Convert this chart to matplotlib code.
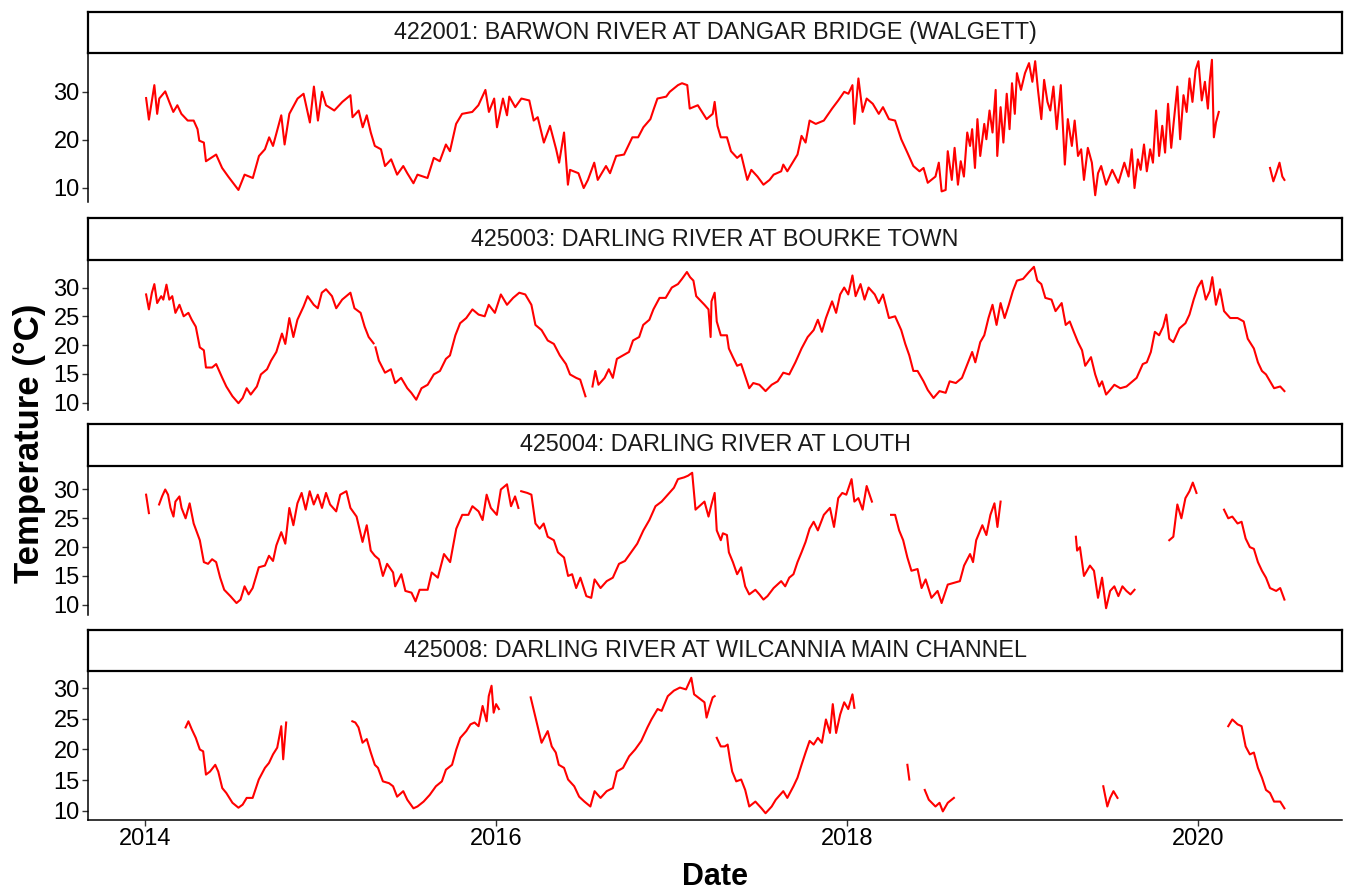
import numpy as np
import matplotlib
matplotlib.use("Agg")
import matplotlib.pyplot as plt

plt.rcParams["font.family"] = ["Liberation Sans", "DejaVu Sans"]

nan = np.nan

# Station titles
stations = [
    "422001: BARWON RIVER AT DANGAR BRIDGE (WALGETT)",
    "425003: DARLING RIVER AT BOURKE TOWN",
    "425004: DARLING RIVER AT LOUTH",
    "425008: DARLING RIVER AT WILCANNIA MAIN CHANNEL",
]

# 422001 - dates as decimal years, water temperature in degC (nan = no record)
p1_year = [
    2014.007, 2014.023, 2014.054, 2014.07, 2014.082, 2014.116, 2014.139, 2014.162, 2014.185, 2014.208,
    2014.244, 2014.278, 2014.30, 2014.31, 2014.336, 2014.348, 2014.406, 2014.44, 2014.475, 2014.51,
    2014.533, 2014.568, 2014.615, 2014.65, 2014.684, 2014.708, 2014.73, 2014.777, 2014.796, 2014.823,
    2014.87, 2014.904, 2014.94, 2014.963, 2014.986, 2015.009, 2015.032, 2015.079, 2015.125, 2015.171,
    2015.183, 2015.218, 2015.241, 2015.264, 2015.287, 2015.31, 2015.345, 2015.368, 2015.403, 2015.437,
    2015.472, 2015.495, 2015.53, 2015.553, 2015.61, 2015.646, 2015.68, 2015.715, 2015.738, 2015.773,
    2015.807, 2015.865, 2015.90, 2015.94, 2015.96, 2015.99, 2016.006, 2016.04, 2016.063, 2016.076,
    2016.11, 2016.145, 2016.19, 2016.215, 2016.238, 2016.273, 2016.308, 2016.343, 2016.36, 2016.388,
    2016.41, 2016.422, 2016.47, 2016.50, 2016.524, 2016.56, 2016.58, 2016.627, 2016.65, 2016.685,
    2016.73, 2016.777, 2016.81, 2016.84, 2016.88, 2016.90, 2016.92, 2016.97, 2016.99, 2017.037,
    2017.06, 2017.09, 2017.104, 2017.15, 2017.20, 2017.235, 2017.246, 2017.262, 2017.281, 2017.316,
    2017.339, 2017.374, 2017.397, 2017.432, 2017.455, 2017.49, 2017.524, 2017.559, 2017.582, 2017.625,
    2017.637, 2017.66, 2017.683, 2017.718, 2017.741, 2017.764, 2017.787, 2017.822, 2017.868, 2017.915,
    2017.95, 2017.984, 2018.008, 2018.031, 2018.042, 2018.065, 2018.089, 2018.112, 2018.147, 2018.181,
    2018.205, 2018.239, 2018.274, 2018.309, 2018.344, 2018.378, 2018.413, 2018.436, 2018.46, 2018.504,
    2018.523, 2018.539, 2018.562, 2018.574, 2018.597, 2018.613, 2018.632, 2018.648, 2018.666, 2018.685,
    2018.701, 2018.713, 2018.729, 2018.743, 2018.759, 2018.782, 2018.794, 2018.812, 2018.829, 2018.847,
    2018.856, 2018.875, 2018.891, 2018.91, 2018.926, 2018.94, 2018.956, 2018.968, 2018.991, 2019.014,
    2019.037, 2019.056, 2019.072, 2019.088, 2019.107, 2019.123, 2019.142, 2019.158, 2019.176, 2019.195,
    2019.218, 2019.241, 2019.258, 2019.281, 2019.297, 2019.316, 2019.334, 2019.35, 2019.372, 2019.395,
    2019.414, 2019.43, 2019.448, 2019.476, 2019.511, 2019.546, 2019.58, 2019.604, 2019.622, 2019.638,
    2019.657, 2019.673, 2019.692, 2019.708, 2019.727, 2019.743, 2019.761, 2019.778, 2019.796, 2019.812,
    2019.829, 2019.847, 2019.863, 2019.882, 2019.898, 2019.917, 2019.935, 2019.951, 2019.968, 2019.986,
    2020.002, 2020.021, 2020.039, 2020.056, 2020.067, 2020.079, 2020.09, 2020.102, 2020.118, 2020.26,
    2020.41, 2020.429, 2020.445, 2020.464, 2020.48, 2020.492,
]
p1_temp = [
    28.7, 24.2, 31.4, 25.4, 28.6, 30.1, 27.9, 25.8, 27.2, 25.4,
    24.0, 24.0, 22.2, 19.8, 19.4, 15.5, 16.9, 14.1, 12.3, 10.6,
    9.5, 12.7, 12.0, 16.6, 18.0, 20.5, 18.7, 25.1, 19.0, 25.4,
    28.6, 29.6, 23.6, 31.1, 24.0, 30.0, 27.2, 26.1, 27.9, 29.3,
    24.7, 26.1, 22.6, 25.1, 21.5, 18.7, 18.0, 14.5, 15.9, 12.7,
    14.5, 13.0, 10.9, 12.7, 12.0, 16.2, 15.5, 19.0, 17.6, 23.3,
    25.4, 25.8, 27.2, 30.4, 25.8, 28.6, 22.6, 28.6, 25.1, 29.0,
    26.8, 28.6, 28.2, 24.0, 24.7, 19.4, 22.9, 18.0, 15.2, 21.5,
    10.6, 13.7, 13.0, 9.9, 11.6, 15.2, 11.6, 14.5, 13.0, 16.6,
    16.9, 20.5, 20.5, 22.6, 24.3, 26.5, 28.6, 29.0, 30.0, 31.4,
    31.8, 31.4, 26.5, 27.2, 24.3, 25.4, 27.9, 22.9, 20.5, 20.5,
    17.6, 16.2, 16.9, 11.6, 13.7, 12.3, 10.6, 11.6, 12.7, 13.4,
    14.8, 13.4, 14.8, 16.9, 20.8, 19.4, 24.0, 23.3, 24.0, 26.5,
    28.2, 30.0, 29.6, 31.4, 23.3, 32.8, 25.8, 28.6, 27.5, 25.4,
    26.8, 24.3, 24.0, 20.1, 17.3, 14.5, 13.4, 14.1, 11.0, 12.3,
    15.2, 9.2, 9.5, 17.6, 11.6, 18.3, 10.6, 15.5, 12.3, 21.5,
    18.7, 22.2, 14.1, 24.3, 16.6, 23.3, 20.1, 26.1, 21.5, 30.4,
    16.6, 26.8, 19.4, 29.6, 22.2, 31.8, 25.4, 33.9, 30.4, 33.9,
    36.0, 32.1, 36.4, 30.4, 24.3, 32.5, 27.9, 26.1, 31.1, 22.2,
    31.4, 14.8, 24.3, 18.7, 24.0, 16.6, 18.0, 11.6, 18.3, 15.2,
    8.4, 13.0, 14.5, 10.6, 13.7, 11.0, 15.2, 12.3, 18.0, 9.9,
    15.9, 13.7, 19.0, 13.4, 18.0, 15.2, 26.1, 16.6, 22.9, 17.3,
    27.5, 18.3, 24.3, 31.1, 20.1, 29.3, 25.8, 32.8, 27.9, 34.6,
    36.4, 28.2, 32.1, 26.5, 32.5, 36.7, 20.5, 23.6, 25.8, nan,
    14.1, 11.3, 13.0, 15.2, 12.3, 11.6,
]

# 425003
p2_year = [
    2014.007, 2014.023, 2014.04, 2014.054, 2014.07, 2014.093, 2014.105, 2014.123, 2014.139, 2014.156,
    2014.174, 2014.197, 2014.221, 2014.248, 2014.267, 2014.29, 2014.313, 2014.336, 2014.348, 2014.383,
    2014.406, 2014.441, 2014.464, 2014.499, 2014.533, 2014.557, 2014.58, 2014.603, 2014.638, 2014.661,
    2014.696, 2014.719, 2014.749, 2014.781, 2014.80, 2014.823, 2014.846, 2014.869, 2014.904, 2014.927,
    2014.962, 2014.985, 2015.008, 2015.032, 2015.066, 2015.09, 2015.124, 2015.171, 2015.194, 2015.229,
    2015.252, 2015.275, 2015.298, 2015.303, 2015.308, 2015.314, 2015.333, 2015.368, 2015.402, 2015.426,
    2015.46, 2015.495, 2015.518, 2015.546, 2015.576, 2015.611, 2015.646, 2015.681, 2015.715, 2015.738,
    2015.769, 2015.796, 2015.831, 2015.866, 2015.901, 2015.936, 2015.959, 2015.994, 2016.028, 2016.063,
    2016.098, 2016.133, 2016.167, 2016.202, 2016.225, 2016.26, 2016.295, 2016.33, 2016.364, 2016.399,
    2016.422, 2016.457, 2016.48, 2016.51, 2016.53, 2016.55, 2016.566, 2016.584, 2016.619, 2016.643,
    2016.666, 2016.689, 2016.724, 2016.758, 2016.781, 2016.816, 2016.839, 2016.874, 2016.897, 2016.932,
    2016.967, 2017.002, 2017.037, 2017.06, 2017.088, 2017.106, 2017.125, 2017.141, 2017.188, 2017.211,
    2017.223, 2017.228, 2017.246, 2017.258, 2017.281, 2017.316, 2017.327, 2017.35, 2017.374, 2017.397,
    2017.42, 2017.443, 2017.466, 2017.501, 2017.536, 2017.571, 2017.605, 2017.637, 2017.671, 2017.706,
    2017.741, 2017.776, 2017.81, 2017.834, 2017.857, 2017.88, 2017.915, 2017.938, 2017.961, 2017.984,
    2018.007, 2018.031, 2018.049, 2018.077, 2018.10, 2018.123, 2018.158, 2018.181, 2018.205, 2018.239,
    2018.274, 2018.309, 2018.332, 2018.355, 2018.378, 2018.402, 2018.436, 2018.46, 2018.493, 2018.527,
    2018.562, 2018.585, 2018.62, 2018.655, 2018.69, 2018.713, 2018.731, 2018.759, 2018.782, 2018.806,
    2018.829, 2018.852, 2018.875, 2018.898, 2018.922, 2018.945, 2018.968, 2019.003, 2019.037, 2019.065,
    2019.084, 2019.107, 2019.13, 2019.165, 2019.188, 2019.223, 2019.246, 2019.269, 2019.292, 2019.316,
    2019.339, 2019.357, 2019.39, 2019.414, 2019.437, 2019.453, 2019.476, 2019.499, 2019.523, 2019.557,
    2019.592, 2019.615, 2019.65, 2019.685, 2019.708, 2019.731, 2019.754, 2019.778, 2019.801, 2019.819,
    2019.836, 2019.859, 2019.894, 2019.928, 2019.951, 2019.975, 2019.998, 2020.021, 2020.044, 2020.067,
    2020.081, 2020.102, 2020.125, 2020.148, 2020.183, 2020.225, 2020.26, 2020.283, 2020.318, 2020.341,
    2020.364, 2020.387, 2020.41, 2020.433, 2020.468, 2020.492,
]
p2_temp = [
    28.8, 26.2, 29.1, 30.6, 27.3, 28.5, 27.9, 30.5, 27.9, 28.5,
    25.6, 27.0, 25.0, 25.6, 24.4, 23.2, 19.6, 19.1, 16.1, 16.1,
    16.7, 14.3, 12.8, 11.1, 9.9, 10.8, 12.5, 11.4, 12.8, 14.9,
    15.8, 17.3, 18.8, 22.0, 20.2, 24.7, 21.4, 24.4, 26.7, 28.5,
    27.0, 26.4, 29.1, 29.7, 28.5, 26.4, 27.9, 29.1, 26.4, 25.6,
    23.2, 21.4, 20.5, 20.3, nan, 19.6, 17.3, 15.2, 15.8, 13.4,
    14.3, 12.5, 11.7, 10.5, 12.5, 13.1, 14.9, 15.5, 17.6, 18.2,
    21.7, 23.8, 24.7, 26.2, 25.3, 25.0, 27.0, 25.6, 28.8, 27.0,
    28.2, 29.1, 28.8, 27.0, 23.5, 22.6, 20.8, 20.2, 18.2, 16.7,
    14.9, 14.3, 14.0, 11.1, nan, 12.8, 15.5, 13.1, 14.3, 15.8,
    14.3, 17.6, 18.2, 18.8, 20.8, 21.4, 23.5, 24.4, 26.2, 28.2,
    28.2, 30.0, 30.6, 31.5, 32.7, 31.8, 31.2, 28.5, 27.0, 26.2,
    21.4, 27.6, 29.1, 24.1, 21.7, 21.7, 19.4, 17.9, 16.4, 16.7,
    14.6, 12.5, 13.4, 13.1, 12.0, 13.1, 13.7, 15.2, 14.9, 17.0,
    19.4, 21.4, 22.6, 24.4, 22.3, 24.7, 27.6, 25.6, 28.8, 30.0,
    28.8, 32.1, 28.5, 30.6, 27.9, 30.0, 28.8, 27.3, 28.8, 24.7,
    25.0, 22.6, 20.2, 18.2, 15.5, 15.5, 13.7, 12.2, 10.8, 12.0,
    11.7, 13.7, 13.4, 14.3, 17.0, 18.8, 17.0, 20.5, 21.7, 24.7,
    27.0, 23.5, 27.3, 24.7, 27.0, 29.4, 31.2, 31.5, 32.7, 33.6,
    31.2, 30.6, 28.2, 27.9, 25.9, 27.3, 23.5, 24.1, 22.3, 20.5,
    19.1, 16.4, 17.9, 14.9, 12.8, 13.7, 11.4, 12.2, 13.1, 12.5,
    12.8, 13.4, 14.3, 16.7, 17.0, 18.8, 22.3, 21.7, 23.2, 25.3,
    21.1, 20.5, 22.9, 23.8, 25.3, 27.9, 30.0, 31.2, 27.9, 29.4,
    31.8, 27.0, 29.7, 25.9, 24.7, 24.7, 24.1, 21.1, 19.4, 17.0,
    15.5, 14.9, 13.7, 12.5, 12.8, 12.0,
]

# 425004
p3_year = [
    2014.007, 2014.023, 2014.05, 2014.081, 2014.098, 2014.116, 2014.132, 2014.146, 2014.163, 2014.174,
    2014.197, 2014.209, 2014.232, 2014.255, 2014.278, 2014.313, 2014.336, 2014.36, 2014.383, 2014.406,
    2014.429, 2014.452, 2014.487, 2014.522, 2014.545, 2014.568, 2014.591, 2014.614, 2014.649, 2014.684,
    2014.707, 2014.73, 2014.749, 2014.777, 2014.80, 2014.823, 2014.846, 2014.869, 2014.893, 2014.916,
    2014.939, 2014.962, 2014.985, 2015.009, 2015.032, 2015.055, 2015.09, 2015.113, 2015.148, 2015.171,
    2015.206, 2015.24, 2015.264, 2015.287, 2015.31, 2015.333, 2015.356, 2015.38, 2015.414, 2015.426,
    2015.461, 2015.484, 2015.519, 2015.542, 2015.565, 2015.611, 2015.634, 2015.669, 2015.704, 2015.739,
    2015.774, 2015.808, 2015.843, 2015.866, 2015.901, 2015.924, 2015.947, 2015.971, 2016.005, 2016.028,
    2016.063, 2016.086, 2016.109, 2016.128, 2016.136, 2016.144, 2016.179, 2016.202, 2016.225, 2016.249,
    2016.272, 2016.295, 2016.33, 2016.353, 2016.388, 2016.411, 2016.434, 2016.457, 2016.481, 2016.515,
    2016.543, 2016.562, 2016.596, 2016.631, 2016.666, 2016.701, 2016.735, 2016.77, 2016.805, 2016.84,
    2016.874, 2016.909, 2016.944, 2016.979, 2017.014, 2017.037, 2017.072, 2017.095, 2017.118, 2017.137,
    2017.188, 2017.211, 2017.228, 2017.246, 2017.258, 2017.281, 2017.293, 2017.316, 2017.327, 2017.35,
    2017.374, 2017.397, 2017.42, 2017.443, 2017.478, 2017.501, 2017.524, 2017.547, 2017.582, 2017.625,
    2017.648, 2017.671, 2017.695, 2017.718, 2017.741, 2017.764, 2017.787, 2017.81, 2017.834, 2017.868,
    2017.903, 2017.926, 2017.95, 2017.973, 2017.996, 2018.026, 2018.042, 2018.065, 2018.089, 2018.112,
    2018.142, 2018.2, 2018.251, 2018.274, 2018.297, 2018.32, 2018.344, 2018.367, 2018.402, 2018.425,
    2018.448, 2018.481, 2018.516, 2018.539, 2018.574, 2018.609, 2018.643, 2018.667, 2018.701, 2018.718,
    2018.736, 2018.771, 2018.794, 2018.817, 2018.84, 2018.857, 2018.875, 2019.1, 2019.304, 2019.311,
    2019.327, 2019.35, 2019.384, 2019.407, 2019.43, 2019.453, 2019.476, 2019.499, 2019.523, 2019.546,
    2019.569, 2019.592, 2019.615, 2019.638, 2019.74, 2019.836, 2019.859, 2019.882, 2019.905, 2019.928,
    2019.951, 2019.97, 2019.991, 2020.07, 2020.148, 2020.172, 2020.195, 2020.225, 2020.248, 2020.271,
    2020.295, 2020.318, 2020.341, 2020.364, 2020.387, 2020.41, 2020.445, 2020.468, 2020.492,
]
p3_temp = [
    29.1, 25.9, nan, 27.4, 28.8, 30.0, 29.1, 26.8, 25.3, 27.9,
    28.8, 26.8, 25.0, 27.6, 24.1, 21.2, 17.4, 17.1, 17.9, 17.4,
    14.7, 12.6, 11.5, 10.3, 10.9, 13.2, 11.8, 12.9, 16.5, 16.8,
    18.5, 17.6, 20.3, 22.6, 20.6, 26.8, 23.8, 27.6, 29.4, 26.5,
    29.7, 27.4, 29.1, 26.8, 29.4, 27.4, 26.2, 29.1, 29.7, 26.8,
    25.3, 20.9, 23.8, 19.4, 18.5, 17.9, 15.0, 17.1, 15.6, 13.2,
    15.3, 12.4, 12.1, 10.6, 12.6, 12.6, 15.6, 14.7, 18.8, 17.4,
    23.2, 25.6, 25.6, 27.1, 26.2, 24.7, 29.1, 26.8, 25.6, 30.0,
    30.9, 27.1, 28.8, 26.8, nan, 29.7, 29.4, 29.1, 24.1, 23.2,
    24.1, 21.8, 21.2, 19.1, 18.2, 15.0, 15.3, 12.9, 14.7, 11.5,
    11.2, 14.4, 12.9, 14.1, 14.7, 17.1, 17.6, 19.1, 20.6, 22.9,
    24.7, 27.1, 27.9, 29.1, 30.3, 31.8, 32.1, 32.4, 32.9, 26.5,
    27.9, 25.3, 27.4, 29.4, 22.9, 21.2, 22.4, 22.1, 19.1, 17.4,
    15.3, 16.5, 13.2, 11.8, 12.6, 11.8, 10.9, 11.5, 12.9, 14.1,
    13.2, 14.7, 15.3, 17.4, 19.1, 20.9, 23.2, 24.4, 22.9, 25.6,
    26.8, 23.5, 28.5, 29.4, 29.1, 31.8, 27.9, 28.5, 26.5, 30.6,
    27.9, nan, 25.6, 25.6, 22.9, 21.2, 18.2, 15.9, 16.2, 12.9,
    14.4, 11.2, 12.4, 10.3, 13.5, 13.8, 14.1, 16.8, 18.8, 17.4,
    21.2, 23.8, 22.1, 25.6, 27.6, 23.5, 27.9, nan, 21.8, 19.4,
    20.0, 15.0, 16.8, 15.9, 11.2, 14.7, 9.4, 12.4, 13.2, 11.5,
    13.2, 12.4, 11.8, 12.6, nan, 21.2, 21.8, 27.4, 25.0, 28.5,
    29.7, 31.2, 29.4, nan, 26.5, 25.0, 25.3, 24.1, 24.4, 21.5,
    20.0, 19.7, 17.4, 15.9, 14.7, 12.9, 12.4, 12.9, 10.9,
]

# 425008
p4_year = [
    2014.232, 2014.248, 2014.267, 2014.29, 2014.313, 2014.332, 2014.348, 2014.371, 2014.401, 2014.418,
    2014.441, 2014.464, 2014.499, 2014.533, 2014.557, 2014.58, 2014.614, 2014.649, 2014.684, 2014.707,
    2014.73, 2014.754, 2014.777, 2014.788, 2014.805, 2015.0, 2015.182, 2015.199, 2015.217, 2015.24,
    2015.264, 2015.287, 2015.31, 2015.328, 2015.356, 2015.391, 2015.414, 2015.437, 2015.472, 2015.495,
    2015.53, 2015.553, 2015.588, 2015.623, 2015.658, 2015.692, 2015.715, 2015.75, 2015.774, 2015.797,
    2015.831, 2015.855, 2015.878, 2015.901, 2015.924, 2015.947, 2015.959, 2015.975, 2015.987, 2016.001,
    2016.017, 2016.1, 2016.198, 2016.214, 2016.237, 2016.26, 2016.295, 2016.318, 2016.341, 2016.358,
    2016.388, 2016.411, 2016.446, 2016.474, 2016.504, 2016.538, 2016.562, 2016.596, 2016.631, 2016.666,
    2016.689, 2016.724, 2016.759, 2016.793, 2016.828, 2016.863, 2016.886, 2016.921, 2016.944, 2016.979,
    2017.014, 2017.048, 2017.083, 2017.113, 2017.129, 2017.188, 2017.20, 2017.216, 2017.235, 2017.246,
    2017.252, 2017.258, 2017.281, 2017.304, 2017.32, 2017.332, 2017.346, 2017.369, 2017.397, 2017.42,
    2017.443, 2017.478, 2017.513, 2017.536, 2017.571, 2017.594, 2017.637, 2017.66, 2017.695, 2017.718,
    2017.741, 2017.764, 2017.787, 2017.81, 2017.834, 2017.857, 2017.88, 2017.903, 2017.919, 2017.938,
    2017.961, 2017.984, 2018.007, 2018.031, 2018.042, 2018.2, 2018.344, 2018.355, 2018.4, 2018.443,
    2018.466, 2018.504, 2018.527, 2018.546, 2018.574, 2018.609, 2019.0, 2019.46, 2019.483, 2019.499,
    2019.518, 2019.541, 2019.9, 2020.172, 2020.195, 2020.225, 2020.248, 2020.271, 2020.295, 2020.318,
    2020.341, 2020.364, 2020.387, 2020.41, 2020.433, 2020.468, 2020.492,
]
p4_temp = [
    23.6, 24.6, 23.3, 21.9, 20.0, 19.7, 15.9, 16.4, 17.5, 16.4,
    13.7, 12.9, 11.3, 10.5, 11.0, 12.1, 12.1, 15.1, 17.0, 17.8,
    19.2, 20.3, 23.8, 18.4, 24.4, nan, 24.6, 24.4, 23.6, 21.1,
    21.7, 19.5, 17.5, 17.0, 14.8, 14.5, 14.0, 12.3, 13.2, 11.8,
    10.4, 10.7, 11.5, 12.6, 14.0, 14.8, 16.7, 17.5, 20.0, 21.9,
    23.0, 24.1, 24.4, 23.8, 27.1, 24.6, 28.7, 30.4, 26.0, 27.4,
    26.6, nan, 28.5, 26.6, 23.8, 21.1, 23.0, 20.5, 19.5, 17.5,
    17.0, 15.1, 14.0, 12.3, 11.5, 10.7, 13.2, 12.1, 13.2, 13.7,
    16.4, 17.0, 18.9, 20.0, 21.4, 23.6, 24.9, 26.6, 26.3, 28.7,
    29.6, 30.1, 29.8, 31.7, 29.0, 27.7, 25.2, 26.8, 28.5, 28.7,
    nan, 21.9, 20.5, 20.5, 20.8, 18.6, 16.4, 14.8, 15.1, 13.4,
    10.7, 11.5, 10.4, 9.6, 10.7, 11.8, 13.2, 12.1, 14.0, 15.4,
    17.5, 19.5, 21.4, 20.8, 21.9, 21.1, 24.9, 22.7, 27.4, 22.7,
    25.7, 27.7, 26.6, 29.0, 26.8, nan, 17.5, 15.1, nan, 13.4,
    11.8, 10.7, 11.3, 9.9, 11.3, 12.1, nan, 14.0, 10.7, 12.1,
    13.2, 12.1, nan, 23.8, 24.9, 24.1, 23.8, 20.5, 19.2, 19.5,
    17.0, 15.4, 13.4, 12.9, 11.5, 11.5, 10.4,
]

years = [p1_year, p2_year, p3_year, p4_year]
temps = [p1_temp, p2_temp, p3_temp, p4_temp]
ystep = [10, 5, 5, 5]
xticks = [2014, 2016, 2018, 2020]

fig = plt.figure(figsize=(13.49, 8.91), dpi=100)

W, H = 1349, 891
left, right = 88, 1342
# (strip top, panel top, panel bottom) in pixels from the top
rows = [(12, 53, 202), (218, 260, 410), (424, 466, 615), (630, 671, 820)]

for i in range(4):
    s_top, p_top, p_bot = rows[i]

    ax = fig.add_axes([left / W, 1 - p_bot / H, (right - left) / W, (p_bot - p_top) / H])
    ax.plot(years[i], temps[i], color="red", lw=1.5)
    ax.margins(x=0.05, y=0.05)
    ax.set_xlim(2013.676, 2020.82)
    ax.yaxis.set_major_locator(plt.MultipleLocator(ystep[i]))
    ax.set_xticks(xticks)

    for side in ["top", "right"]:
        ax.spines[side].set_visible(False)
    ax.spines["left"].set_linewidth(1.1)
    ax.spines["bottom"].set_linewidth(1.1)
    ax.tick_params(axis="both", length=4, width=1.0, color="#333333", labelsize=17, pad=2)

    if i < 3:
        ax.spines["bottom"].set_visible(False)
        ax.tick_params(axis="x", bottom=False, labelbottom=False)

    # strip box
    sax = fig.add_axes([left / W, 1 - p_top / H, (right - left) / W, (p_top - s_top) / H])
    sax.set_xticks([])
    sax.set_yticks([])
    for sp in sax.spines.values():
        sp.set_linewidth(1.6)
        sp.set_color("black")
    sax.text(0.5, 0.5, stations[i], ha="center", va="center", fontsize=16.8, color="#1a1a1a",
             transform=sax.transAxes)

fig.text(0.022, 0.503, "Temperature (°C)", rotation=90, ha="center", va="center",
         fontsize=25, fontweight="bold")
fig.text(715 / W, 1 - 877 / H, "Date", ha="center", va="center", fontsize=22, fontweight="bold")

plt.savefig("out.png", dpi=100)
plt.close()
